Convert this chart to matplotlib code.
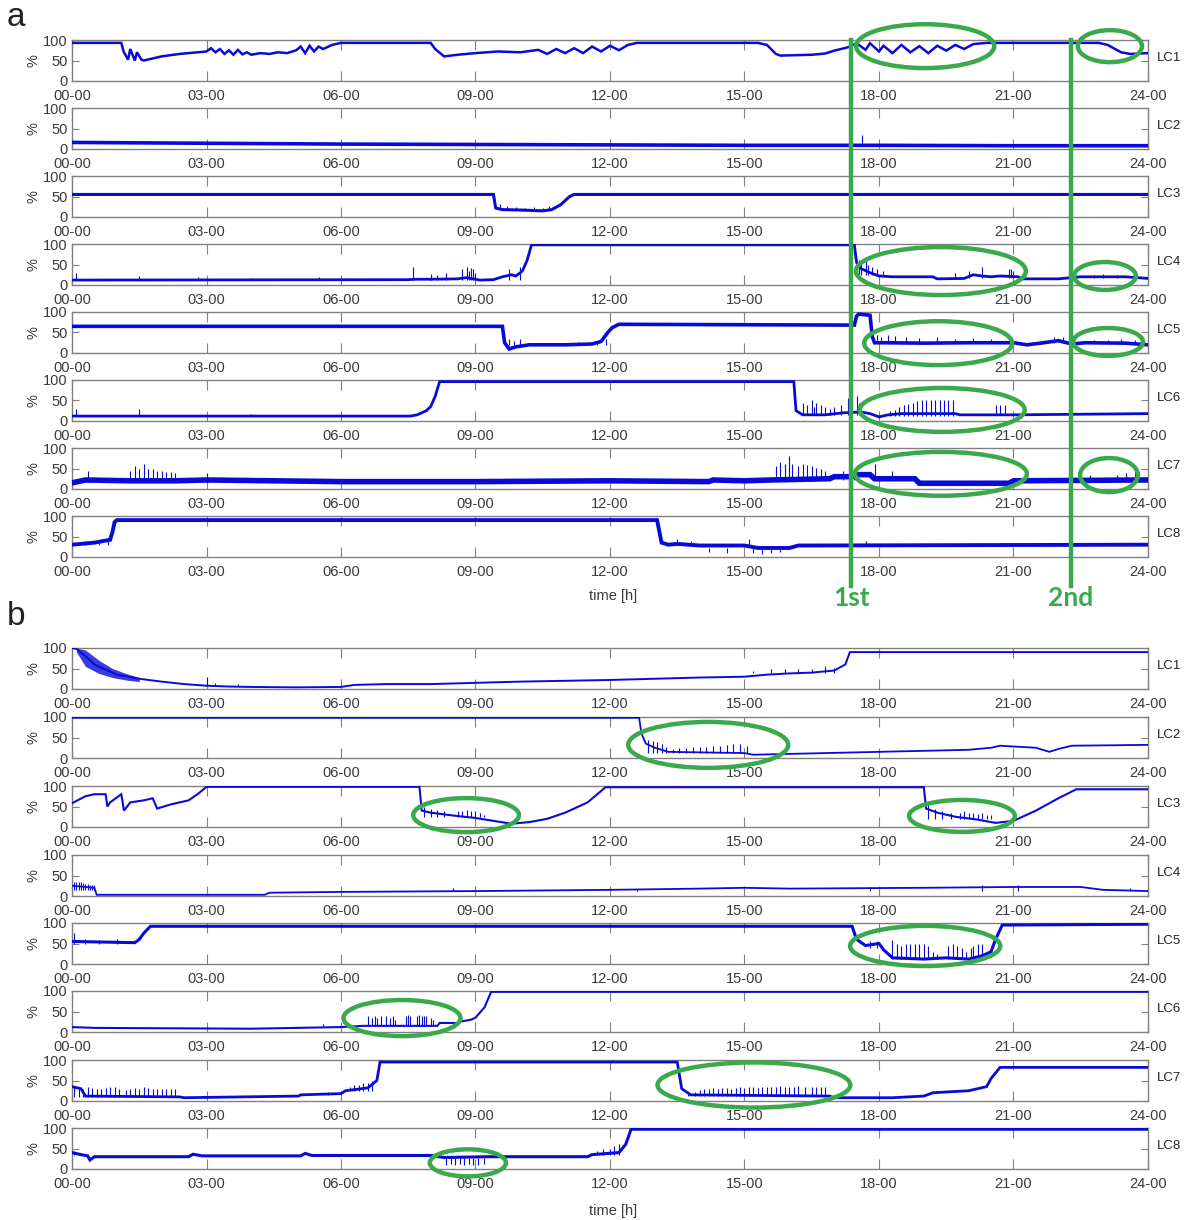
import matplotlib
matplotlib.use("Agg")
import matplotlib.pyplot as plt
import numpy as np
from matplotlib.patches import Ellipse
from matplotlib.lines import Line2D
from matplotlib import transforms

plt.rcParams["font.family"] = ["Liberation Sans", "DejaVu Sans"]

hour_ticks = [0, 3, 6, 9, 12, 15, 18, 21, 24]
hour_labels = ["00-00", "03-00", "06-00", "09-00", "12-00", "15-00", "18-00", "21-00", "24-00"]
lc_names = ["LC1", "LC2", "LC3", "LC4", "LC5", "LC6", "LC7", "LC8"]

# ---------------- panel a : lines (hour, %) ----------------
a_lc1_t = [0, 1.1, 1.15, 1.25, 1.3, 1.4, 1.45, 1.55, 1.6, 1.8, 2.0, 2.2, 2.4, 2.6, 2.8, 3.0, 3.1, 3.2,
           3.3, 3.4, 3.5, 3.6, 3.7, 3.8, 3.9, 4.0, 4.2, 4.4, 4.6, 4.8, 5.0, 5.1, 5.2, 5.3, 5.4, 5.5,
           5.6, 5.8, 6.0, 8.0, 8.1, 8.3, 8.6, 9.0, 9.5, 10.0, 10.4, 10.6, 10.8, 11.0, 11.2, 11.4,
           11.6, 11.8, 12.0, 12.2, 12.4, 12.6, 15.3, 15.5, 15.7, 15.8, 16.5, 16.8, 17.0, 17.3, 17.5,
           17.7, 17.8, 18.0, 18.1, 18.3, 18.5, 18.7, 18.9, 19.1, 19.3, 19.5, 19.7, 19.9, 20.1, 20.4,
           22.9, 23.1, 23.4, 23.6, 24]
a_lc1_v = [93, 93, 72, 52, 78, 50, 70, 52, 50, 55, 60, 63, 66, 68, 70, 72, 80, 70,
           78, 66, 75, 64, 76, 65, 70, 64, 68, 66, 70, 68, 75, 84, 68, 86, 72, 84,
           78, 88, 93, 93, 78, 60, 64, 68, 72, 70, 76, 66, 78, 68, 80, 68,
           84, 72, 86, 75, 88, 93, 93, 88, 66, 62, 64, 67, 74, 82, 92,
           76, 92, 72, 86, 68, 88, 70, 85, 68, 86, 74, 88, 78, 90, 93,
           93, 88, 70, 66, 68]
a_lc2_t = [0, 3, 6, 9, 12, 15, 18, 21, 24]
a_lc2_v = [16, 14, 12, 11, 10, 9, 9, 8, 8]
a_lc3_t = [0, 9.4, 9.45, 9.6, 10.0, 10.5, 10.7, 10.9, 11.1, 11.2, 24]
a_lc3_v = [55, 55, 22, 18, 17, 15, 18, 30, 50, 55, 55]
a_lc4_t = [0, 7.5, 7.65, 8.0, 8.6, 8.8, 9.1, 9.4, 9.6, 9.8, 9.9, 10.0, 10.05, 10.15, 10.25, 17.45,
           17.5, 17.6, 17.8, 18.0, 18.3, 19.2, 19.3, 19.9, 20.1, 20.3, 20.5, 20.7, 21.1, 21.2, 22.0,
           22.5, 23.5, 24]
a_lc4_v = [12, 13, 14, 14, 15, 18, 12, 13, 20, 25, 22, 30, 35, 60, 98, 98,
           55, 40, 30, 22, 20, 20, 15, 16, 25, 22, 20, 22, 20, 15, 15,
           20, 20, 16]
a_lc5_t = [0, 9.6, 9.65, 9.75, 9.9, 10.2, 11.0, 11.6, 11.8, 11.95, 12.05, 12.2, 17.45, 17.5, 17.55,
           17.8, 17.85, 17.9, 18.1, 19.0, 20.0, 21.0, 21.3, 21.6, 22.0, 22.3, 22.6, 23.5, 24]
a_lc5_v = [65, 65, 25, 10, 15, 20, 20, 22, 28, 50, 62, 70, 68, 90, 95,
           92, 40, 25, 25, 24, 25, 25, 20, 24, 30, 22, 25, 24, 20]
a_lc6_t = [0, 7.55, 7.7, 7.9, 8.0, 8.1, 8.2, 16.1, 16.15, 16.3, 16.8, 17.2, 17.6, 17.8, 18.0, 18.2,
           18.5, 19.0, 19.7, 19.8, 20.5, 21.0, 24]
a_lc6_v = [12, 12, 15, 25, 35, 60, 96, 96, 25, 15, 15, 20, 22, 18, 10, 15,
           18, 18, 18, 15, 15, 15, 18]
a_lc7_t = [0, 0.3, 1.3, 2.3, 3.0, 6, 9, 12, 14.2, 14.3, 15, 15.6, 16.9, 17.0, 17.4, 17.5, 17.8, 17.9,
           18.8, 18.9, 20.9, 21.0, 24]
a_lc7_v = [15, 22, 20, 20, 22, 18, 18, 20, 18, 22, 20, 22, 25, 30, 30, 35, 35, 25,
           25, 14, 14, 20, 22]
a_lc8_t = [0, 0.5, 0.85, 0.9, 0.95, 1.0, 13.05, 13.15, 13.3, 13.5, 14.0, 15.0, 15.3, 16.0, 16.2, 24]
a_lc8_v = [30, 35, 42, 60, 85, 90, 90, 35, 30, 32, 28, 28, 22, 22, 28, 30]

# ---------------- panel b : lines (hour, %) ----------------
b_lc1_t = [0, 0.1, 0.3, 0.5, 0.8, 1.0, 1.5, 2.0, 2.5, 3.0, 3.5, 4.0, 5.0, 6.0, 6.3, 7.0, 8.0, 9.0,
           10.0, 11.0, 12.0, 13.0, 14.0, 15.0, 15.5, 16.0, 16.5, 17.0, 17.25, 17.35, 24]
b_lc1_v = [100, 98, 80, 60, 45, 35, 25, 18, 12, 8, 6, 5, 4, 5, 10, 12, 12, 15,
           18, 20, 22, 25, 28, 30, 35, 38, 40, 45, 60, 90, 90]
b_lc2_t = [0, 12.65, 12.7, 12.8, 13.0, 13.3, 15.0, 15.2, 18, 20, 20.5, 20.7, 21.0, 21.5, 21.8, 22.0,
           22.3, 24]
b_lc2_v = [98, 98, 60, 35, 25, 15, 12, 8, 15, 20, 25, 30, 28, 25, 15, 22, 30, 32]
b_lc3_t = [0, 0.3, 0.5, 0.75, 0.79, 0.85, 1.0, 1.1, 1.16, 1.3, 1.6, 1.8, 1.9, 2.2, 2.6, 2.8, 3.0,
           7.75, 7.8, 8.0, 8.5, 9.0, 9.4, 9.8, 10.2, 10.6, 11.0, 11.5, 11.9, 19.0, 19.05, 19.3,
           19.7, 20.2, 20.6, 21.0, 21.5, 22.0, 22.4, 24]
b_lc3_v = [58, 75, 80, 80, 50, 60, 72, 80, 40, 60, 65, 70, 45, 55, 65, 80, 98,
           98, 40, 35, 28, 22, 15, 8, 12, 20, 35, 60, 97, 97, 45, 35,
           25, 18, 10, 15, 40, 70, 92, 92]
b_lc4_t = [0, 0.5, 0.55, 4.3, 4.4, 6, 9, 12, 14, 15, 16, 19, 21, 22.5, 23.0, 24]
b_lc4_v = [25, 20, 3, 3, 8, 10, 12, 15, 18, 20, 18, 20, 22, 22, 15, 12]
b_lc5_t = [0, 1.4, 1.5, 1.6, 1.75, 17.4, 17.5, 17.7, 18.0, 18.1, 18.3, 19.0, 19.5, 20.0, 20.3, 20.5,
           20.6, 20.75, 24]
b_lc5_v = [55, 52, 60, 75, 92, 92, 60, 45, 50, 35, 15, 12, 15, 12, 20, 30, 60, 95, 97]
b_lc6_t = [0, 0.5, 4.0, 5.0, 6.0, 6.5, 8.15, 8.2, 8.6, 8.65, 8.9, 9.0, 9.2, 9.35, 24]
b_lc6_v = [12, 10, 8, 10, 12, 15, 15, 22, 22, 25, 30, 35, 60, 98, 98]
b_lc7_t = [0, 0.2, 0.3, 2.4, 2.5, 5.05, 5.1, 6.0, 6.1, 6.6, 6.8, 6.87, 13.5, 13.6, 13.8, 16.9, 17.0,
           18.3, 19.0, 19.2, 19.5, 20.0, 20.2, 20.4, 20.5, 20.7, 24]
b_lc7_v = [35, 30, 12, 10, 8, 12, 15, 18, 25, 32, 50, 95, 95, 30, 15, 12, 8,
           8, 12, 20, 22, 25, 30, 35, 55, 82, 82]
b_lc8_t = [0, 0.2, 0.35, 0.4, 0.5, 2.6, 2.7, 2.9, 5.1, 5.2, 5.35, 8.0, 8.3, 9.3, 11.5, 11.6, 12.2,
           12.35, 12.47, 24]
b_lc8_v = [40, 35, 32, 22, 30, 30, 36, 32, 32, 38, 33, 33, 28, 30, 30, 35, 40, 60, 97, 97]

# noisy envelope at the start of b LC1
b_lc1_band_t = [0.1, 0.3, 0.6, 0.9, 1.2, 1.5]
b_lc1_band_lo = [90, 55, 38, 28, 22, 18]
b_lc1_band_hi = [100, 95, 70, 50, 38, 28]

# ---------------- spikes: (base %, hours, tops %) ----------------
a_spikes = {
    0: [],
    1: [(9, [17.62], [35])],
    2: [(18, [9.55, 9.7, 9.9, 10.1, 10.3, 10.5, 10.65], [32, 28, 25, 22, 24, 22, 28])],
    3: [(12, [0.1, 1.5, 2.8, 4.0, 5.5, 7.6, 8.0, 8.15, 8.35, 8.7, 8.8, 8.85, 8.9, 8.95, 9.0, 9.75, 10.0],
         [30, 22, 20, 18, 20, 45, 28, 25, 30, 40, 45, 35, 42, 38, 30, 40, 45]),
        (25, [17.55, 17.6, 17.7, 17.75, 17.85, 17.95, 18.1], [60, 55, 58, 50, 45, 40, 35]),
        (18, [19.7, 20.0, 20.3, 20.9, 20.95, 21.0, 22.8, 23.0, 23.3], [30, 35, 45, 38, 40, 35, 25, 26, 25])],
    4: [(20, [9.75, 9.85, 10.0, 10.4, 11.3, 11.7, 11.9], [35, 30, 35, 25, 28, 30, 35]),
        (25, [17.95, 18.05, 18.2, 18.35, 18.6, 18.9, 19.3, 19.7, 20.1, 20.5, 21.0, 21.9, 22.1, 22.8,
              23.1, 23.4, 23.7],
         [45, 40, 45, 42, 38, 36, 38, 35, 36, 35, 32, 38, 40, 32, 32, 34, 32])],
    5: [(12, [0.1, 1.5, 4.0], [30, 30, 18]),
        (15, [16.3, 16.4, 16.5, 16.55, 16.6, 16.7, 16.8, 16.9, 17.0, 17.15, 17.3, 17.5, 17.55],
         [45, 40, 50, 35, 45, 40, 35, 30, 35, 40, 55, 60, 45]),
        (12, [18.25, 18.35, 18.45, 18.55, 18.65, 18.75, 18.85, 18.95, 19.05, 19.15, 19.25, 19.35,
              19.45, 19.55, 19.65],
         [25, 28, 35, 40, 42, 45, 48, 50, 50, 50, 50, 50, 50, 50, 50]),
        (15, [20.6, 20.7, 20.8], [40, 40, 40])],
    6: [(18, [0.35, 1.3, 1.4, 1.5, 1.6, 1.7, 1.8, 1.9, 2.0, 2.1, 2.2, 2.3, 3.0],
         [45, 45, 55, 50, 60, 48, 50, 45, 45, 42, 42, 40, 40]),
        (22, [15.7, 15.8, 15.9, 16.0, 16.05, 16.2, 16.3, 16.4, 16.5, 16.6, 16.7, 16.8, 17.2, 17.45,
              17.9, 18.3, 22.7, 23.3, 23.5, 23.7],
         [55, 65, 60, 80, 60, 55, 60, 58, 55, 52, 50, 45, 45, 50, 60, 45, 35, 35, 38, 45])],
    7: [(30, [0.3, 0.6, 0.8, 13.5, 13.8, 15.1, 17.7], [40, 42, 45, 45, 38, 45, 38]),
        (22, [14.2, 14.6, 15.2, 15.4, 15.6, 15.8], [12, 10, 10, 8, 10, 12])],
}
b_spikes = {
    0: [(8, [3.0, 3.2, 3.7], [30, 15, 12]),
        (38, [15.2, 15.6, 15.9, 16.2, 16.5, 16.8, 17.0], [45, 48, 50, 48, 50, 55, 52])],
    1: [(12, [12.85, 12.95, 13.05, 13.15, 13.25, 13.4, 13.55, 13.7, 13.85, 14.0, 14.15, 14.3, 14.45,
              14.6, 14.75, 14.9, 15.05],
         [45, 42, 40, 35, 28, 22, 24, 25, 26, 28, 28, 30, 30, 32, 33, 33, 30])],
    2: [(25, [7.85, 8.0, 8.15, 8.3, 8.6, 8.7, 8.8, 8.9, 9.0, 9.1, 9.2],
         [50, 45, 42, 40, 38, 40, 42, 40, 38, 35, 30]),
        (20, [19.1, 19.25, 19.4, 19.6, 19.8, 19.9, 20.0, 20.1, 20.2, 20.3, 20.4, 20.5],
         [55, 45, 40, 35, 35, 38, 35, 35, 32, 35, 30, 30])],
    3: [(15, [0.05, 0.1, 0.15, 0.2, 0.25, 0.3, 0.35, 0.4, 0.45, 0.5],
         [35, 35, 34, 33, 32, 30, 30, 28, 28, 26]),
        (12, [8.5, 12.6, 17.8, 20.3, 21.1, 23.6], [20, 18, 22, 28, 28, 20])],
    4: [(50, [0.05, 0.3, 0.6, 1.0], [75, 60, 58, 60]),
        (40, [17.8, 17.95], [55, 55]),
        (12, [18.3, 18.4, 18.5, 18.6, 18.7, 18.8, 18.9, 19.0, 19.1, 19.2, 19.3, 19.55, 19.65, 19.75,
              19.85, 19.95, 20.05, 20.1, 20.2, 20.3],
         [58, 50, 45, 50, 50, 48, 50, 50, 45, 30, 25, 45, 48, 45, 40, 30, 40, 45, 48, 50])],
    5: [(12, [5.6], [20]),
        (15, [6.6, 6.7, 6.75, 6.8, 6.9, 7.0, 7.1, 7.15, 7.2, 7.45, 7.5, 7.55, 7.7, 7.75, 7.8, 7.85,
              7.9, 8.0, 8.05],
         [38, 35, 40, 35, 38, 40, 35, 38, 30, 40, 42, 40, 38, 42, 40, 38, 40, 35, 30])],
    6: [(10, [0.05, 0.15, 0.25, 0.35, 0.45, 0.55, 0.65, 0.75, 0.85, 0.95, 1.05, 1.2, 1.3, 1.4, 1.5,
              1.6, 1.7, 1.8, 1.9, 2.0, 2.1, 2.2, 2.3],
         [35, 32, 30, 33, 32, 30, 30, 32, 35, 33, 30, 28, 30, 32, 30, 33, 32, 30, 30, 30, 30, 30, 30]),
        (15, [5.7], [22]),
        (25, [6.2, 6.3, 6.4, 6.5, 6.6, 6.7], [35, 38, 40, 45, 45, 50]),
        (12, [13.75, 13.9, 14.0, 14.1, 14.2, 14.3, 14.4, 14.5, 14.6, 14.7, 14.8, 14.9, 15.0, 15.1,
              15.2, 15.3, 15.4, 15.5, 15.6, 15.7, 15.8, 15.9, 16.0, 16.1, 16.2, 16.35, 16.5, 16.6,
              16.7, 16.8],
         [20, 22, 28, 30, 30, 32, 30, 32, 32, 30, 32, 34, 32, 33, 35, 32, 34, 35, 34, 35, 36, 35,
          34, 35, 36, 34, 34, 35, 34, 35])],
    7: [(35, [0.05, 11.7, 11.85, 12.0, 12.1, 12.2], [45, 45, 48, 50, 55, 60]),
        (28, [8.35, 8.45, 8.55, 8.65, 8.75, 8.85, 8.95, 9.05, 9.2], [10, 12, 10, 12, 10, 12, 10, 10, 12])],
}

# green ellipses: (row, centre hour, centre %, width h, height %)
a_ellipses = [(0, 19.03, 85, 3.08, 107), (0, 23.15, 85, 1.43, 78),
              (3, 19.38, 34, 3.79, 117), (3, 23.04, 22, 1.38, 68),
              (4, 19.32, 24, 3.30, 107), (4, 23.11, 27, 1.56, 68),
              (5, 19.41, 27, 3.68, 107),
              (6, 19.38, 37, 3.84, 107), (6, 23.13, 34, 1.29, 83)]
b_ellipses = [(1, 14.19, 32, 3.57, 112),
              (2, 8.79, 29, 2.36, 83), (2, 19.85, 27, 2.36, 78),
              (4, 19.03, 44, 3.35, 98),
              (5, 7.36, 34, 2.61, 88),
              (6, 15.21, 39, 4.30, 110),
              (7, 8.83, 15, 1.70, 66)]
event_hours = [17.38, 22.28]
event_names = ["1st", "2nd"]

a_lines = [(a_lc1_t, a_lc1_v), (a_lc2_t, a_lc2_v), (a_lc3_t, a_lc3_v), (a_lc4_t, a_lc4_v),
           (a_lc5_t, a_lc5_v), (a_lc6_t, a_lc6_v), (a_lc7_t, a_lc7_v), (a_lc8_t, a_lc8_v)]
b_lines = [(b_lc1_t, b_lc1_v), (b_lc2_t, b_lc2_v), (b_lc3_t, b_lc3_v), (b_lc4_t, b_lc4_v),
           (b_lc5_t, b_lc5_v), (b_lc6_t, b_lc6_v), (b_lc7_t, b_lc7_v), (b_lc8_t, b_lc8_v)]
# line widths mimic how noisy each trace looks
a_widths = [1.8, 2.6, 2.2, 2.0, 2.6, 2.0, 4.0, 2.8]
b_widths = [1.4, 1.3, 1.5, 1.3, 2.2, 1.5, 2.0, 2.2]

W, H = 1189, 1220
blue = "#0a0ad8"
green = "#3aa94b"
frame = "#808080"

fig = plt.figure(figsize=(W / 100, H / 100), dpi=100)

a_tops = [40, 108, 176, 244, 312, 380, 448, 516]
b_tops = [648, 717, 786, 855, 923, 991, 1060, 1128]
ax_h = 41


def make_axes(top):
    ax = fig.add_axes([72 / W, 1 - (top + ax_h) / H, 1076 / W, ax_h / H])
    ax.set_xlim(0, 24)
    ax.set_ylim(0, 100)
    ax.set_xticks(hour_ticks)
    ax.set_xticklabels(hour_labels)
    ax.set_yticks([0, 50, 100])
    ax.tick_params(axis="x", direction="in", length=7, top=True, labelsize=10.5,
                   colors=frame, labelcolor="#3a3a3a", pad=6)
    ax.tick_params(axis="y", direction="in", length=5, right=True, labelsize=10.5,
                   colors=frame, labelcolor="#3a3a3a", pad=3)
    for sp in ax.spines.values():
        sp.set_color(frame)
        sp.set_linewidth(1.0)
    ax.set_ylabel("%", fontsize=10.5, color="#3a3a3a", labelpad=2)
    return ax


def draw_panel(tops, lines, spikes, ellipses, widths):
    axes = []
    for i, top in enumerate(tops):
        ax = make_axes(top)
        t, v = lines[i]
        ax.plot(t, v, color=blue, lw=widths[i], solid_joinstyle="miter", zorder=3)
        for base, ts, tops_ in spikes[i]:
            ax.vlines(ts, base, tops_, color=blue, lw=0.8, zorder=3)
        ax.text(1.008, 0.55, lc_names[i], transform=ax.transAxes, fontsize=9.5,
                color="#222222", va="center", ha="left")
        axes.append(ax)
    for row, tc, pc, tw, ph in ellipses:
        axes[row].add_patch(Ellipse((tc, pc), tw, ph, fill=False, edgecolor=green,
                                    lw=3.2, clip_on=False, zorder=5))
    return axes


axes_a = draw_panel(a_tops, a_lines, a_spikes, a_ellipses, a_widths)
axes_b = draw_panel(b_tops, b_lines, b_spikes, b_ellipses, b_widths)
axes_b[0].fill_between(b_lc1_band_t, b_lc1_band_lo, b_lc1_band_hi, color=blue, lw=0, alpha=0.8)

# event markers across panel a
trans = transforms.blended_transform_factory(axes_a[0].transData, fig.transFigure)
for hr, name in zip(event_hours, event_names):
    fig.add_artist(Line2D([hr, hr], [1 - 40 / H, 1 - 586 / H], transform=trans,
                          color=green, lw=3.2, zorder=10))
    fig.text(hr, 1 - 598 / H, name, transform=trans, ha="center", va="center",
             fontsize=19, fontweight="bold", color=green, family=["Lato", "DejaVu Sans"])

fig.text(613 / W, 1 - 596 / H, "time [h]", ha="center", va="center", fontsize=10.5, color="#3a3a3a")
fig.text(613 / W, 1 - 1211 / H, "time [h]", ha="center", va="center", fontsize=10.5, color="#3a3a3a")
fig.text(16 / W, 1 - 18 / H, "a", ha="center", va="center", fontsize=24, color="#222222")
fig.text(16 / W, 1 - 616 / H, "b", ha="center", va="center", fontsize=24, color="#222222")

fig.savefig("out.png", dpi=100, facecolor="white")
